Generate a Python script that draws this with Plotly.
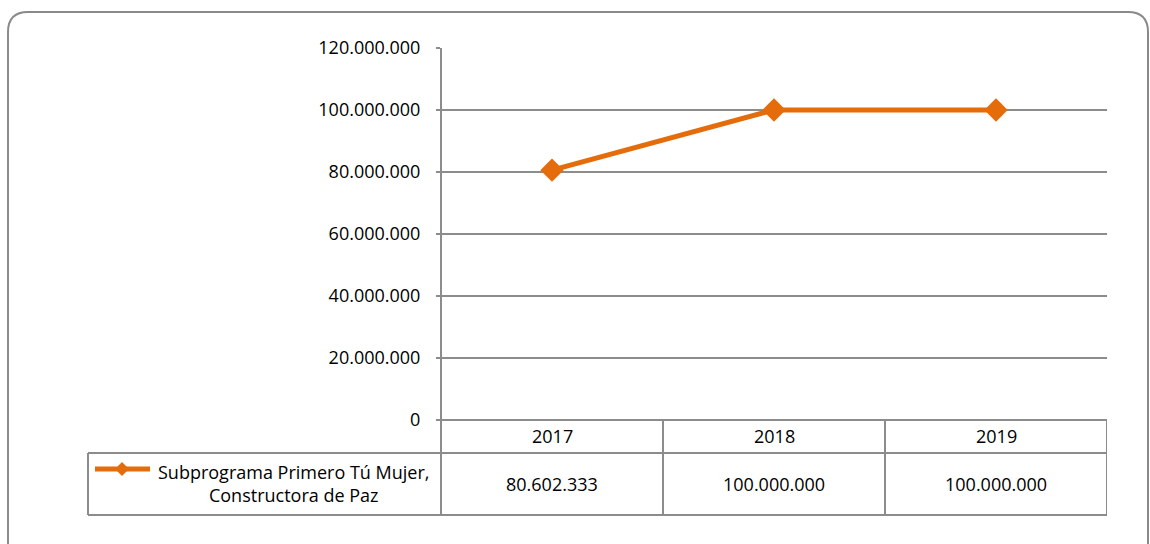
import plotly.graph_objects as go

# ---- data ----
years = ["2017", "2018", "2019"]
values = [80602333, 100000000, 100000000]
series_name = "Subprograma Primero Tú Mujer,<br>Constructora de Paz"
value_labels = ["80.602.333", "100.000.000", "100.000.000"]
y_ticks = [0, 20000000, 40000000, 60000000, 80000000, 100000000, 120000000]

W, H = 1150, 544
def px(x):
    return x / W
def py(y):
    return 1 - y / H

ORANGE = "#E46C0A"
GRID = "#8c8c8c"
FONT = "Open Sans"
FS = 18

fig = go.Figure()
fig.add_trace(go.Scatter(
    x=[0, 1, 2], y=values, mode="lines+markers",
    line=dict(color=ORANGE, width=5),
    marker=dict(symbol="diamond", size=18, color=ORANGE),
    showlegend=False, hoverinfo="skip",
))

shapes = []
# outer rounded border
shapes.append(dict(type="path", xref="paper", yref="paper",
    path=f"M {px(8)},{py(560)} L {px(8)},{py(32)} Q {px(8)},{py(12)} {px(28)},{py(12)} "
         f"L {px(1128)},{py(12)} Q {px(1148)},{py(12)} {px(1148)},{py(32)} L {px(1148)},{py(560)}",
    line=dict(color="#8a8a8a", width=2)))

# data table lines + value axis line
tl = dict(color=GRID, width=2)
shapes.append(dict(type="line", xref="paper", yref="paper", x0=px(441), x1=px(1107), y0=py(420), y1=py(420), line=tl))
shapes.append(dict(type="line", xref="paper", yref="paper", x0=px(88), x1=px(1107), y0=py(453), y1=py(453), line=tl))
shapes.append(dict(type="line", xref="paper", yref="paper", x0=px(88), x1=px(1107), y0=py(515), y1=py(515), line=tl))
shapes.append(dict(type="line", xref="paper", yref="paper", x0=px(88), x1=px(88), y0=py(453), y1=py(515), line=tl))
shapes.append(dict(type="line", xref="paper", yref="paper", x0=px(441), x1=px(441), y0=py(48), y1=py(515), line=tl))
for b in [0.5, 1.5, 2.5]:
    shapes.append(dict(type="line", xref="x", yref="paper", x0=b, x1=b, y0=py(420), y1=py(515), line=tl))

# legend key
shapes.append(dict(type="line", xref="paper", yref="paper", x0=px(95), x1=px(150), y0=py(469), y1=py(469),
                   line=dict(color=ORANGE, width=5)))
cx, cy, r = 122, 469, 7
shapes.append(dict(type="path", xref="paper", yref="paper",
    path=f"M {px(cx-r)},{py(cy)} L {px(cx)},{py(cy-r)} L {px(cx+r)},{py(cy)} L {px(cx)},{py(cy+r)} Z",
    fillcolor=ORANGE, line=dict(color=ORANGE, width=0)))

annotations = []
for i, (yr, lab) in enumerate(zip(years, value_labels)):
    annotations.append(dict(x=i, y=py(436), xref="x", yref="paper", text=yr, showarrow=False,
                            font=dict(family=FONT, size=FS, color="#000000"), xanchor="center", yanchor="middle"))
    annotations.append(dict(x=i, y=py(484), xref="x", yref="paper", text=lab, showarrow=False,
                            font=dict(family=FONT, size=FS, color="#000000"), xanchor="center", yanchor="middle"))
annotations.append(dict(x=px(293), y=py(483), xref="paper", yref="paper", text=series_name, showarrow=False,
                        align="center", font=dict(family=FONT, size=FS, color="#000000"),
                        xanchor="center", yanchor="middle"))

fig.update_layout(
    template="none",
    width=W, height=H, autosize=False,
    margin=dict(l=0, r=0, t=0, b=0, pad=0),
    paper_bgcolor="white", plot_bgcolor="white",
    separators=",.",
    xaxis=dict(domain=[px(441), px(1107)], range=[-0.5, 2.5], showgrid=False, zeroline=False,
               showticklabels=False, showline=False, ticks="", fixedrange=True, automargin=False),
    yaxis=dict(domain=[py(420), py(48)], range=[0, 120000000], tickvals=y_ticks,
               tickformat=",d", showgrid=True, gridcolor=GRID, gridwidth=1.5,
               zeroline=False, showline=False,
               ticks="outside", ticklen=4, tickcolor=GRID, tickwidth=1.5,
               ticklabelstandoff=12, automargin=False, fixedrange=True,
               tickfont=dict(family=FONT, size=FS, color="#000000")),
    shapes=shapes, annotations=annotations,
    font=dict(family=FONT, size=FS, color="#000000"),
)

fig.write_html("out.html", config={"displayModeBar": False},
               post_script="document.body.style.margin='0';document.body.style.overflow='hidden';")
